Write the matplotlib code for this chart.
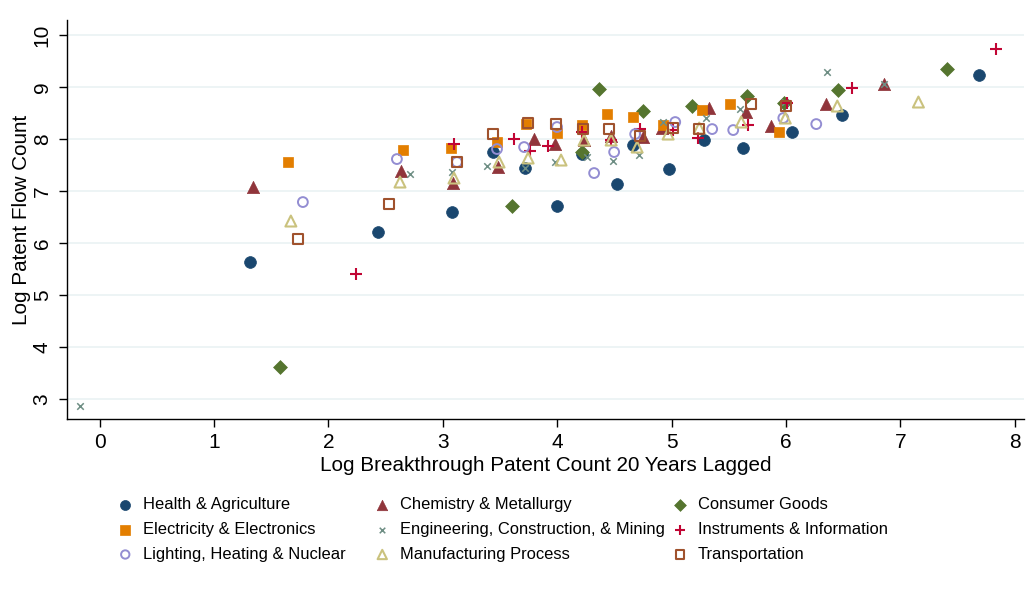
import matplotlib
matplotlib.use("Agg")
import matplotlib.pyplot as plt

plt.rcParams['font.family'] = ['Liberation Sans', 'DejaVu Sans']

# ---- data ----
health_x = [1.312, 2.432, 3.080, 3.438, 3.718, 3.998, 4.217, 4.523, 4.663, 4.978, 5.284, 5.626, 6.054, 6.492, 7.690]
health_y = [5.635, 6.212, 6.596, 7.750, 7.442, 6.712, 7.712, 7.135, 7.885, 7.423, 7.981, 7.827, 8.135, 8.462, 9.231]

chem_x = [1.339, 2.633, 3.088, 3.482, 3.797, 3.981, 4.234, 4.471, 4.751, 4.917, 5.328, 5.652, 5.871, 6.352, 6.859]
chem_y = [7.077, 7.385, 7.154, 7.462, 8.000, 7.904, 7.981, 8.058, 8.038, 8.212, 8.596, 8.519, 8.250, 8.673, 9.058]

cons_x = [1.575, 3.605, 4.217, 4.366, 4.751, 5.179, 5.661, 5.984, 6.457, 7.410]
cons_y = [3.615, 6.712, 7.750, 8.962, 8.538, 8.635, 8.827, 8.692, 8.942, 9.346]

elec_x = [1.645, 2.651, 3.071, 3.473, 3.727, 3.998, 4.217, 4.436, 4.663, 4.926, 5.267, 5.512, 5.941]
elec_y = [7.558, 7.788, 7.827, 7.942, 8.288, 8.115, 8.269, 8.481, 8.423, 8.269, 8.558, 8.673, 8.135]

eng_x = [-0.175, 2.712, 3.080, 3.386, 3.718, 3.981, 4.261, 4.488, 4.716, 4.926, 5.302, 5.599, 5.993, 6.361, 6.859]
eng_y = [2.865, 7.327, 7.365, 7.481, 7.442, 7.558, 7.654, 7.577, 7.692, 8.327, 8.404, 8.577, 8.712, 9.288, 9.058]

inst_x = [2.240, 3.097, 3.622, 3.762, 3.920, 4.217, 4.471, 4.724, 5.013, 5.232, 5.669, 6.010, 6.579, 7.839]
inst_y = [5.404, 7.904, 8.000, 7.769, 7.865, 8.135, 7.981, 8.192, 8.173, 8.019, 8.269, 8.692, 8.981, 9.731]

light_x = [1.776, 2.598, 3.123, 3.473, 3.710, 3.998, 4.322, 4.497, 4.681, 5.031, 5.354, 5.538, 5.976, 6.264]
light_y = [6.788, 7.615, 7.558, 7.808, 7.846, 8.231, 7.346, 7.750, 8.096, 8.327, 8.192, 8.173, 8.404, 8.288]

manu_x = [1.671, 2.625, 3.097, 3.491, 3.745, 4.033, 4.234, 4.471, 4.698, 4.969, 5.241, 5.608, 5.993, 6.448, 7.157]
manu_y = [6.423, 7.173, 7.250, 7.558, 7.635, 7.596, 7.981, 7.981, 7.846, 8.096, 8.212, 8.327, 8.404, 8.635, 8.712]

trans_x = [1.732, 2.528, 3.123, 3.438, 3.745, 3.990, 4.226, 4.453, 4.724, 5.013, 5.241, 5.696, 6.002]
trans_y = [6.077, 6.750, 7.558, 8.096, 8.308, 8.288, 8.192, 8.192, 8.058, 8.212, 8.192, 8.673, 8.635]

labels = ["Health & Agriculture", "Chemistry & Metallurgy", "Consumer Goods",
          "Electricity & Electronics", "Engineering, Construction, & Mining",
          "Instruments & Information", "Lighting, Heating & Nuclear",
          "Manufacturing Process", "Transportation"]
x_ticks = [0, 1, 2, 3, 4, 5, 6, 7, 8]
y_ticks = [3, 4, 5, 6, 7, 8, 9, 10]

# ---- styles ----
styles = [
    dict(marker='o', s=72, facecolors='#1a476f', edgecolors='#1a476f', linewidths=0.5),
    dict(marker='^', s=78, facecolors='#90353b', edgecolors='#90353b', linewidths=0.5),
    dict(marker='D', s=50, facecolors='#55752f', edgecolors='#55752f', linewidths=0.5),
    dict(marker='s', s=62, facecolors='#e37e00', edgecolors='#e37e00', linewidths=0.5),
    dict(marker='x', s=22, c='#6e8e84', linewidths=1.1),
    dict(marker='+', s=70, c='#c10534', linewidths=1.5),
    dict(marker='o', s=50, facecolors='none', edgecolors='#938dd2', linewidths=1.4),
    dict(marker='^', s=62, facecolors='none', edgecolors='#cac27e', linewidths=1.5),
    dict(marker='s', s=48, facecolors='none', edgecolors='#a0522d', linewidths=1.5),
]
series = [(health_x, health_y), (chem_x, chem_y), (cons_x, cons_y),
          (elec_x, elec_y), (eng_x, eng_y), (inst_x, inst_y),
          (light_x, light_y), (manu_x, manu_y), (trans_x, trans_y)]

W, H = 1026, 596
fig = plt.figure(figsize=(W / 100, H / 100), dpi=100)
ax = fig.add_axes([67 / W, 1 - 419 / H, (1024 - 67) / W, (419 - 20) / H])

handles = []
for (xs, ys), st, lab in zip(series, styles, labels):
    h = ax.scatter(xs, ys, label=lab, zorder=3, **st)
    handles.append(h)

ax.set_xlim(-0.286, 8.08)
ax.set_ylim(2.615, 10.29)
ax.set_xticks(x_ticks)
ax.set_yticks(y_ticks)
ax.set_xticklabels([str(v) for v in x_ticks], fontsize=15)
ax.set_yticklabels([str(v) for v in y_ticks], fontsize=15, rotation=90, va='center')
ax.tick_params(axis='both', direction='out', length=6, width=1, color='black')
ax.tick_params(axis='x', pad=4)
ax.tick_params(axis='y', pad=5)
ax.grid(axis='y', color='#eaf2f3', linewidth=1.2, zorder=0)
ax.set_axisbelow(True)
for sp in ['top', 'right']:
    ax.spines[sp].set_visible(False)
for sp in ['left', 'bottom']:
    ax.spines[sp].set_linewidth(1)
    ax.spines[sp].set_color('black')

ax.set_xlabel("Log Breakthrough Patent Count 20 Years Lagged", fontsize=14.9, labelpad=3)
ax.set_ylabel("Log Patent Flow Count", fontsize=14.9, labelpad=1.5)

# ---- legend: three columns at fixed positions ----
col_x = [117, 374, 672]
for c in range(3):
    hs = [handles[r * 3 + c] for r in range(3)]
    ls = [labels[r * 3 + c] for r in range(3)]
    fig.legend(hs, ls, loc='upper left', bbox_to_anchor=(col_x[c] / W, 1 - 497 / H),
               bbox_transform=fig.transFigure, frameon=False, fontsize=11.9,
               borderpad=0, borderaxespad=0, handlelength=1.0, handletextpad=0.55,
               labelspacing=0.6, markerscale=0.85, scatterpoints=1)

fig.savefig("out.png", dpi=100, facecolor='white')
